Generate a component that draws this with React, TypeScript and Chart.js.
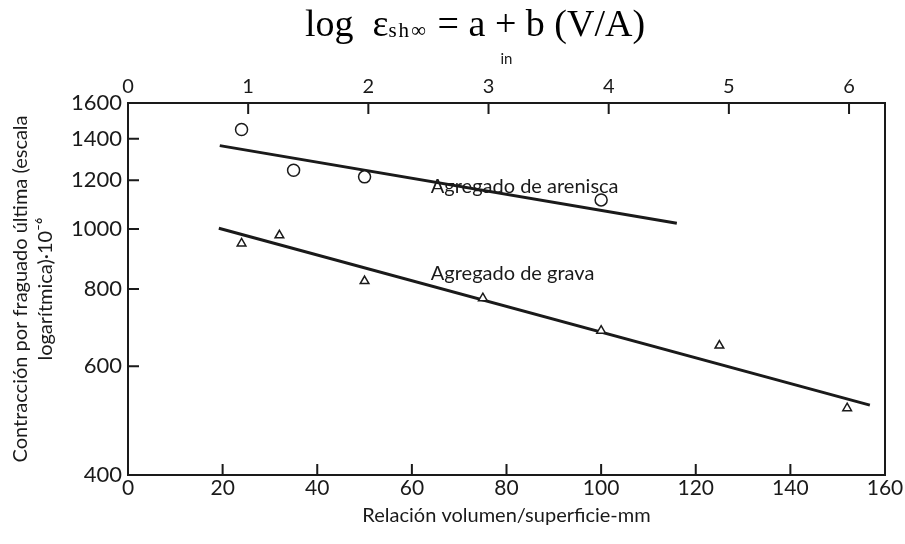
import React, { useEffect, useRef } from "react";
import { Chart, registerables } from "chart.js";

Chart.register(...registerables);

// ---- data ----
const sandstoneX = [24, 35, 50, 100];
const sandstoneY = [1450, 1245, 1215, 1115];
const gravelX = [24, 32, 50, 75, 100, 125, 152];
const gravelY = [948, 977, 824, 773, 685, 648, 513];
const sandstoneFitX = [19.4, 116];
const sandstoneFitY = [1365, 1022];
const gravelFitX = [19.2, 156.8];
const gravelFitY = [1003, 519];

const xTicksMm = [0, 20, 40, 60, 80, 100, 120, 140, 160];
const xTicksIn = [0, 1, 2, 3, 4, 5, 6];
const yTicks = [400, 600, 800, 1000, 1200, 1400, 1600];
const MM_PER_IN = 25.4;

const seriesLabels = ["Agregado de arenisca", "Agregado de grava"];
const seriesLabelX = [64, 64];
const seriesLabelY = [1170, 849];

const xTitle = "Relación volumen/superficie-mm";
const x2Title = "in";
const yTitle = ["Contracción por fraguado última (escala", "logarítmica)·10⁻⁶"];

const FONT = "Lato, 'Open Sans', 'DejaVu Sans', sans-serif";
const INK = "#1a1a1a";

const titlePlugin = {
  id: "formulaTitle",
  afterDraw(chart: any) {
    const ctx = chart.ctx as CanvasRenderingContext2D;
    const parts = [
      { t: "log  ε", f: "38px 'Liberation Serif', 'Times New Roman', serif", dy: 0, ls: "0px" },
      { t: "sh∞", f: "21px 'Liberation Serif', 'Times New Roman', serif", dy: 1, ls: "2px" },
      { t: " = a + b (V/A)", f: "38px 'Liberation Serif', 'Times New Roman', serif", dy: 0, ls: "0px" },
    ];
    ctx.save();
    ctx.fillStyle = "#000";
    ctx.textBaseline = "alphabetic";
    let total = 0;
    const widths: number[] = [];
    for (const p of parts) {
      ctx.font = p.f;
      (ctx as any).letterSpacing = p.ls;
      const w = ctx.measureText(p.t).width;
      widths.push(w);
      total += w;
    }
    let x = 475 - total / 2;
    const base = 36;
    parts.forEach((p, i) => {
      ctx.font = p.f;
      (ctx as any).letterSpacing = p.ls;
      ctx.textAlign = "left";
      ctx.fillText(p.t, x, base + p.dy);
      x += widths[i];
    });
    (ctx as any).letterSpacing = "0px";
    ctx.restore();
  },
};

const inwardTicksPlugin = {
  id: "inwardTicks",
  afterDatasetsDraw(chart: any) {
    const ctx = chart.ctx as CanvasRenderingContext2D;
    const { left, right, top, bottom } = chart.chartArea;
    const { x, x2, y } = chart.scales;
    const len = 11;
    ctx.save();
    ctx.strokeStyle = INK;
    ctx.lineWidth = 2;
    ctx.beginPath();
    x.ticks.forEach((t: any) => {
      const px = x.getPixelForValue(t.value);
      if (px <= left + 2 || px >= right - 2) return;
      ctx.moveTo(px, bottom);
      ctx.lineTo(px, bottom - len);
    });
    x2.ticks.forEach((t: any) => {
      const px = x2.getPixelForValue(t.value);
      if (px <= left + 2 || px >= right - 2) return;
      ctx.moveTo(px, top);
      ctx.lineTo(px, top + len);
    });
    y.ticks.forEach((t: any) => {
      const py = y.getPixelForValue(t.value);
      if (py <= top + 2 || py >= bottom - 2) return;
      ctx.moveTo(left, py);
      ctx.lineTo(left + len, py);
    });
    ctx.stroke();
    ctx.restore();
  },
};

const seriesLabelPlugin = {
  id: "seriesLabels",
  afterDatasetsDraw(chart: any) {
    const ctx = chart.ctx as CanvasRenderingContext2D;
    const { x, y } = chart.scales;
    ctx.save();
    ctx.fillStyle = INK;
    ctx.font = `20px ${FONT}`;
    ctx.textAlign = "left";
    ctx.textBaseline = "middle";
    seriesLabels.forEach((s, i) => {
      ctx.fillText(s, x.getPixelForValue(seriesLabelX[i]), y.getPixelForValue(seriesLabelY[i]));
    });
    ctx.restore();
  },
};

export default function App() {
  const ref = useRef<HTMLCanvasElement | null>(null);

  useEffect(() => {
    if (!ref.current) return;
    const toPts = (xs: number[], ys: number[]) => xs.map((v, i) => ({ x: v, y: ys[i] }));
    const border = { display: true, color: INK, width: 2 };
    const noGrid = { display: false, drawTicks: false, tickLength: 0 };
    const chart = new Chart(ref.current, {
      type: "scatter",
      data: {
        datasets: [
          {
            label: "Agregado de arenisca",
            data: toPts(sandstoneX, sandstoneY),
            pointStyle: "circle",
            pointRadius: 6,
            pointBorderWidth: 1.5,
            borderColor: INK,
            backgroundColor: "#fff",
            xAxisID: "x",
            yAxisID: "y",
          },
          {
            label: "Agregado de grava",
            data: toPts(gravelX, gravelY),
            pointStyle: "triangle",
            pointRadius: 5,
            pointBorderWidth: 1.5,
            borderColor: INK,
            backgroundColor: "#fff",
            xAxisID: "x",
            yAxisID: "y",
          },
          {
            type: "line",
            label: "Ajuste arenisca",
            data: toPts(sandstoneFitX, sandstoneFitY),
            borderColor: INK,
            borderWidth: 3,
            pointRadius: 0,
            showLine: true,
            xAxisID: "x",
            yAxisID: "y",
          },
          {
            type: "line",
            label: "Ajuste grava",
            data: toPts(gravelFitX, gravelFitY),
            borderColor: INK,
            borderWidth: 3,
            pointRadius: 0,
            showLine: true,
            xAxisID: "x",
            yAxisID: "y",
          },
        ] as any,
      },
      options: {
        responsive: false,
        animation: false,
        layout: { padding: 0 },
        plugins: { legend: { display: false }, tooltip: { enabled: false } },
        scales: {
          x: {
            type: "linear",
            position: "bottom",
            min: 0,
            max: 160,
            afterBuildTicks: (s: any) => {
              s.ticks = xTicksMm.map((v) => ({ value: v }));
            },
            afterFit: (s: any) => {
              s.height = 69;
            },
            grid: noGrid,
            border,
            ticks: {
              autoSkip: false,
              maxRotation: 0,
              padding: 1,
              color: INK,
              font: { family: FONT, size: 21 },
            },
            title: {
              display: true,
              text: xTitle,
              color: INK,
              font: { family: FONT, size: 20, lineHeight: 1.2 },
              padding: { top: 0, bottom: 16 },
            },
          },
          x2: {
            type: "linear",
            position: "top",
            min: 0,
            max: 160 / MM_PER_IN,
            afterBuildTicks: (s: any) => {
              s.ticks = xTicksIn.map((v) => ({ value: v }));
            },
            afterFit: (s: any) => {
              s.height = 103;
            },
            grid: noGrid,
            border,
            ticks: {
              autoSkip: false,
              maxRotation: 0,
              padding: 4,
              color: INK,
              font: { family: FONT, size: 20 },
            },
            title: {
              display: true,
              text: x2Title,
              color: INK,
              font: { family: FONT, size: 15, lineHeight: 1.2 },
              padding: { top: 50, bottom: 0 },
            },
          },
          y: {
            type: "logarithmic",
            position: "left",
            min: 400,
            max: 1600,
            afterBuildTicks: (s: any) => {
              s.ticks = yTicks.map((v) => ({ value: v }));
            },
            afterFit: (s: any) => {
              s.width = 128;
            },
            grid: noGrid,
            border,
            ticks: {
              autoSkip: false,
              padding: 6,
              color: INK,
              font: { family: FONT, size: 22 },
              callback: (v: any) => String(v),
            },
            title: {
              display: true,
              text: yTitle,
              color: INK,
              font: { family: FONT, size: 20, lineHeight: 1.25 },
              padding: { top: 8, bottom: 0 },
            },
          },
          y2: {
            type: "logarithmic",
            position: "right",
            min: 400,
            max: 1600,
            afterFit: (s: any) => {
              s.width = 20;
            },
            grid: noGrid,
            border,
            ticks: { display: false },
          },
        },
      } as any,
      plugins: [titlePlugin, inwardTicksPlugin, seriesLabelPlugin],
    });
    return () => chart.destroy();
  }, []);

  return (
    <div style={{ position: "absolute", left: 0, top: 0, width: 905, height: 544, background: "#fff" }}>
      <canvas ref={ref} width={905} height={544} style={{ display: "block" }} />
    </div>
  );
}
